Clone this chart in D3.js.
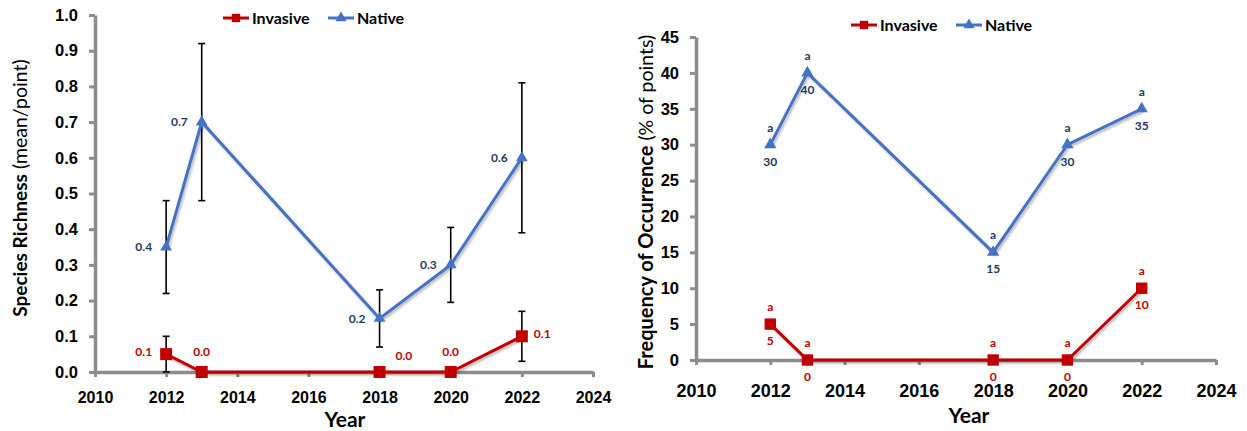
<!DOCTYPE html>
<html>
<head>
<meta charset="utf-8">
<script src="https://cdn.jsdelivr.net/npm/d3@7"></script>
<style>
  html, body { margin: 0; padding: 0; background: #fff; }
  svg { display: block; font-family: Lato, "Open Sans", sans-serif; }
</style>
</head>
<body>
<svg id="chart" width="1247" height="431"></svg>
<script>
// Survey years and per-series values
const years = [2012, 2013, 2018, 2020, 2022];
const xTicks = [2010, 2012, 2014, 2016, 2018, 2020, 2022, 2024];

// Species richness (mean per point) with standard error
const richnessNative = [0.35, 0.70, 0.15, 0.30, 0.60];
const richnessNativeErr = [0.13, 0.22, 0.08, 0.105, 0.21];
const richnessInvasive = [0.05, 0.0, 0.0, 0.0, 0.10];
const richnessInvasiveErr = [0.05, 0.0, 0.0, 0.0, 0.07];
const richnessTicks = [0, 0.1, 0.2, 0.3, 0.4, 0.5, 0.6, 0.7, 0.8, 0.9, 1.0];

// Frequency of occurrence (% of points) with significance letters
const freqNative = [30, 40, 15, 30, 35];
const freqInvasive = [5, 0, 0, 0, 10];
const freqNativeLetters = ["a", "a", "a", "a", "a"];
const freqInvasiveLetters = ["a", "a", "a", "a", "a"];
const freqTicks = [0, 5, 10, 15, 20, 25, 30, 35, 40, 45];

const seriesNames = ["Invasive", "Native"];

const RED = "#C00000";
const BLUE = "#4472C4";
const NAVY = "#1F3864";
const AXIS = "#8C8C8C";

const svg = d3.select("#chart");

// soft shadow under the series lines
const defs = svg.append("defs");
const f = defs.append("filter").attr("id", "shadow")
  .attr("x", "-10%").attr("y", "-10%").attr("width", "120%").attr("height", "130%");
f.append("feDropShadow").attr("dx", 1.5).attr("dy", 2).attr("stdDeviation", 1.3)
  .attr("flood-color", "#000").attr("flood-opacity", 0.28);

const oneDecimal = v => (Math.round(v * 10) / 10).toFixed(1);

function drawAxes(g, x, y, yFormat, opts) {
  const yAxis = d3.axisLeft(y).tickValues(opts.yTicks).tickFormat(yFormat)
    .tickSize(6).tickSizeOuter(0).tickPadding(11);
  const xAxis = d3.axisBottom(x).tickValues(xTicks).tickFormat(d3.format("d"))
    .tickSize(5).tickSizeOuter(0).tickPadding(opts.xPad);

  const gx = g.append("g").attr("transform", `translate(0,${y(0)})`).call(xAxis);
  const gy = g.append("g").attr("transform", `translate(${x(2010)},0)`).call(yAxis);

  [gx, gy].forEach(a => {
    a.select(".domain").attr("stroke", AXIS).attr("stroke-width", 3.5);
    a.selectAll(".tick line").attr("stroke", AXIS).attr("stroke-width", 3);
    a.selectAll(".tick text").attr("fill", "#000").attr("font-weight", 700);
  });
  gy.selectAll(".tick text").attr("font-size", 16.5);
  gx.selectAll(".tick text").attr("font-size", opts.xFont);
}

function drawLegend(g, lx, ly) {
  const items = [
    { name: seriesNames[0], color: RED, shape: d3.symbolSquare, size: 70, x: lx },
    { name: seriesNames[1], color: BLUE, shape: d3.symbolTriangle, size: 55, x: lx + 105 }
  ];
  items.forEach(it => {
    const gi = g.append("g").attr("transform", `translate(${it.x},${ly})`);
    gi.append("line").attr("x1", 0).attr("x2", 26).attr("y1", 0).attr("y2", 0)
      .attr("stroke", it.color).attr("stroke-width", 3);
    gi.append("path").attr("d", d3.symbol(it.shape, it.size)())
      .attr("transform", "translate(13,0)").attr("fill", it.color);
    gi.append("text").attr("x", 29).attr("y", 0).attr("dy", "0.36em")
      .attr("font-size", 16).attr("font-weight", 700).attr("fill", "#000")
      .text(it.name);
  });
}

function drawSeries(g, x, y, vals, color, shape, size) {
  const line = d3.line().x((d, i) => x(years[i])).y(d => y(d));
  g.append("path").datum(vals).attr("d", line)
    .attr("fill", "none").attr("stroke", color).attr("stroke-width", 3)
    .attr("stroke-linejoin", "miter").attr("filter", "url(#shadow)");
  g.selectAll(null).data(vals).enter().append("path")
    .attr("d", d3.symbol(shape, size)())
    .attr("transform", (d, i) => `translate(${x(years[i])},${y(d)})`)
    .attr("fill", color);
}

function drawErrors(g, x, y, vals, errs) {
  vals.forEach((v, i) => {
    if (!errs[i]) return;
    const cx = x(years[i]);
    const y1 = y(v + errs[i]), y2 = y(Math.max(0, v - errs[i]));
    g.append("line").attr("x1", cx).attr("x2", cx).attr("y1", y1).attr("y2", y2)
      .attr("stroke", "#000").attr("stroke-width", 1.6);
    [y1, y2].forEach(yy => g.append("line")
      .attr("x1", cx - 3.5).attr("x2", cx + 3.5).attr("y1", yy).attr("y2", yy)
      .attr("stroke", "#000").attr("stroke-width", 1.6));
  });
}

function yTitle(g, cx, cy, bold, normal, bSize, nSize) {
  const t = g.append("text").attr("transform", `translate(${cx},${cy}) rotate(-90)`)
    .attr("text-anchor", "middle").attr("fill", "#000");
  t.append("tspan").attr("font-weight", 700).attr("font-size", bSize).text(bold);
  t.append("tspan").attr("font-weight", 400).attr("font-size", nSize).text(" " + normal);
}

/* ---------- Species richness panel ---------- */
{
  const g = svg.append("g");
  const x = d3.scaleLinear().domain([2010, 2024]).range([95, 593]);
  const y = d3.scaleLinear().domain([0, 1]).range([372, 15]);

  drawAxes(g, x, y, d3.format(".1f"), { yTicks: richnessTicks, xPad: 15, xFont: 16 });
  drawErrors(g, x, y, richnessNative, richnessNativeErr);
  drawErrors(g, x, y, richnessInvasive, richnessInvasiveErr);
  drawSeries(g, x, y, richnessNative, BLUE, d3.symbolTriangle, 60);
  drawSeries(g, x, y, richnessInvasive, RED, d3.symbolSquare, 144);

  // native value labels sit to the left of each point
  g.selectAll(null).data(richnessNative).enter().append("text")
    .attr("x", (d, i) => x(years[i]) - 14).attr("y", d => y(d)).attr("dy", "0.36em")
    .attr("text-anchor", "end").attr("font-size", 12).attr("font-weight", 700)
    .attr("fill", NAVY).text(oneDecimal);

  // invasive value labels, placement per point
  const place = ["left", "above", "rightAbove", "above", "right"];
  g.selectAll(null).data(richnessInvasive).enter().append("text")
    .attr("x", (d, i) => {
      const px = x(years[i]);
      return place[i] === "left" ? px - 14 : place[i] === "above" ? px
        : place[i] === "rightAbove" ? px + 16 : px + 12;
    })
    .attr("y", (d, i) => {
      const py = y(d);
      return place[i] === "left" ? py - 2 : place[i] === "above" ? py - 20
        : place[i] === "rightAbove" ? py - 16 : py - 3;
    })
    .attr("dy", "0.36em")
    .attr("text-anchor", (d, i) => place[i] === "left" ? "end" : place[i] === "above" ? "middle" : "start")
    .attr("font-size", 12).attr("font-weight", 700).attr("fill", RED).text(oneDecimal);

  yTitle(g, 27, 188, "Species Richness", "(mean/point)", 19, 19.5);
  g.append("text").attr("x", 345).attr("y", 427).attr("text-anchor", "middle")
    .attr("font-size", 21).attr("font-weight", 700).text("Year");
  drawLegend(g, 223, 18);
}

/* ---------- Frequency of occurrence panel ---------- */
{
  const g = svg.append("g");
  const x = d3.scaleLinear().domain([2010, 2024]).range([696, 1216]);
  const y = d3.scaleLinear().domain([0, 45]).range([360, 37]);

  drawAxes(g, x, y, d3.format("d"), { yTicks: freqTicks, xPad: 19, xFont: 18 });
  drawSeries(g, x, y, freqNative, BLUE, d3.symbolTriangle, 65);
  drawSeries(g, x, y, freqInvasive, RED, d3.symbolSquare, 130);

  const labelSets = [
    { vals: freqNative, letters: freqNativeLetters, color: NAVY },
    { vals: freqInvasive, letters: freqInvasiveLetters, color: RED }
  ];
  labelSets.forEach(s => {
    g.selectAll(null).data(s.vals).enter().append("text")
      .attr("x", (d, i) => x(years[i])).attr("y", d => y(d) - 13)
      .attr("text-anchor", "middle").attr("font-size", 12).attr("font-weight", 700)
      .attr("fill", s.color).text((d, i) => s.letters[i]);
    g.selectAll(null).data(s.vals).enter().append("text")
      .attr("x", (d, i) => x(years[i])).attr("y", d => y(d) + 21)
      .attr("text-anchor", "middle").attr("font-size", 12).attr("font-weight", 700)
      .attr("fill", s.color).text(d => d);
  });

  yTitle(g, 653, 202, "Frequency of Occurrence", "(% of points)", 20, 19.5);
  g.append("text").attr("x", 969).attr("y", 423).attr("text-anchor", "middle")
    .attr("font-size", 21).attr("font-weight", 700).text("Year");
  drawLegend(g, 851, 25);
}
</script>
</body>
</html>
